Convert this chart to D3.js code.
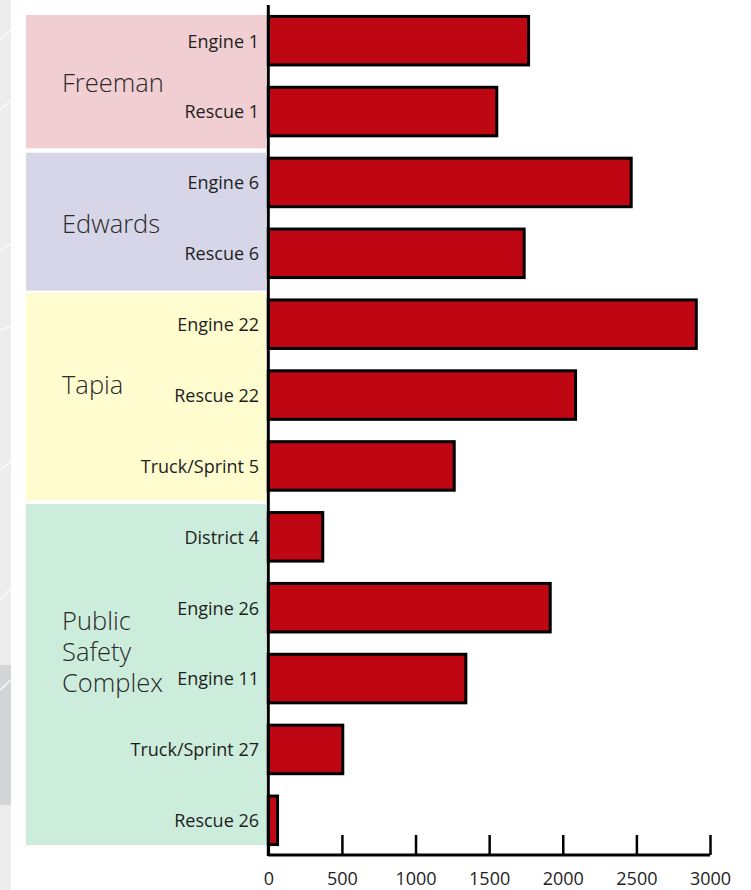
<!DOCTYPE html>
<html>
<head>
<meta charset="utf-8">
<script src="https://cdn.jsdelivr.net/npm/d3@7"></script>
<style>
  html, body { margin: 0; padding: 0; background: #fff; }
  svg { display: block; font-family: "Open Sans", "Noto Sans", sans-serif; }
</style>
</head>
<body>
<svg id="chart" width="751" height="890"></svg>
<script>
// ---- data ----
const categories = ["Engine 1", "Rescue 1", "Engine 6", "Rescue 6", "Engine 22", "Rescue 22",
  "Truck/Sprint 5", "District 4", "Engine 26", "Engine 11", "Truck/Sprint 27", "Rescue 26"];
const values = [1778, 1562, 2475, 1748, 2917, 2097, 1273, 380, 1925, 1352, 516, 73];
const groupNames = ["Freeman", "Edwards", "Tapia", "Public Safety Complex"];
const groupLabelLines = [["Freeman"], ["Edwards"], ["Tapia"], ["Public", "Safety", "Complex"]];
const groupFirst = ["Engine 1", "Engine 6", "Engine 22", "District 4"];
const groupLast = ["Rescue 1", "Rescue 6", "Truck/Sprint 5", "Rescue 26"];
const groupColors = ["#f1ced2", "#d6d6e8", "#fffccf", "#ccecdc"];
const xTicks = [0, 500, 1000, 1500, 2000, 2500, 3000];

// ---- layout ----
const svg = d3.select("#chart");
const x0 = 268.3, x1 = 710;
const x = d3.scaleLinear().domain([0, 3000]).range([x0, x1]);
const y = d3.scaleBand().domain(categories).range([5, 856]).paddingInner(0.273).paddingOuter(0.14);
const bw = y.bandwidth();

// faint map strip on the far left
svg.append("rect").attr("x", 0).attr("y", 0).attr("width", 11).attr("height", 890).attr("fill", "#ededed");
svg.append("rect").attr("x", 0).attr("y", 665).attr("width", 11).attr("height", 140).attr("fill", "#d4d5d6");
const roads = [[0, 40, 11, 30], [0, 110, 11, 100], [0, 250, 11, 244], [0, 330, 11, 326], [0, 470, 11, 462], [0, 600, 11, 588], [0, 690, 11, 680]];
svg.selectAll("line.road").data(roads).join("line").attr("class", "road")
  .attr("x1", d => d[0]).attr("y1", d => d[1]).attr("x2", d => d[2]).attr("y2", d => d[3])
  .attr("stroke", "#fafafa").attr("stroke-width", 1.5);

// group panels
const panelLeft = 26, panelRight = 266;
const topAdj = [0, -4, -6, -7];
const botAdj = [11, 11.5, 9, -1];
const labelFrac = [0.58, 0.58, 0.486, 0.37];
const panels = groupNames.map((g, i) => {
  const top = y(groupFirst[i]) + topAdj[i];
  const bottom = y(groupLast[i]) + bw + botAdj[i];
  return { name: g, lines: groupLabelLines[i], color: groupColors[i], top, bottom, frac: labelFrac[i] };
});
const pg = svg.append("g");
pg.selectAll("rect").data(panels).join("rect")
  .attr("x", panelLeft).attr("y", d => d.top)
  .attr("width", panelRight - panelLeft).attr("height", d => d.bottom - d.top)
  .attr("fill", d => d.color);
const gl = pg.selectAll("text").data(panels).join("text")
  .attr("x", 62)
  .attr("y", d => d.top + d.frac * (d.bottom - d.top))
  .attr("font-size", 25.5).attr("font-weight", 300).attr("fill", "#2a2a2a");
gl.selectAll("tspan").data(d => d.lines).join("tspan")
  .attr("x", 62).attr("dy", (d, i) => i === 0 ? 0 : 31).text(d => d);

// category labels
svg.append("g").selectAll("text").data(categories).join("text")
  .attr("x", 259).attr("y", d => y(d) + bw / 2)
  .attr("dy", "0.38em").attr("text-anchor", "end")
  .attr("font-size", 18).attr("fill", "#1e1e1e")
  .text(d => d);

// bars
svg.append("g").selectAll("rect").data(categories).join("rect")
  .attr("x", x(0))
  .attr("y", d => y(d) + 1.5)
  .attr("width", (d, i) => Math.max(0, x(values[i]) - x(0) - 1.5))
  .attr("height", bw - 3)
  .attr("fill", "#bf0613")
  .attr("stroke", "#000").attr("stroke-width", 3);

// y axis line
svg.append("line").attr("x1", x0).attr("x2", x0).attr("y1", 5).attr("y2", 856)
  .attr("stroke", "#000").attr("stroke-width", 3);

// x axis
const axisY = 855;
const xAxis = d3.axisBottom(x).tickValues(xTicks).tickSize(-20).tickPadding(30).tickFormat(d3.format("d"));
const ax = svg.append("g").attr("transform", `translate(0,${axisY})`).call(xAxis);
ax.select(".domain").attr("d", `M${x0},0H${x1}`).attr("stroke", "#000").attr("stroke-width", 3);
ax.selectAll(".tick line").attr("stroke", "#000").attr("stroke-width", 2.5);
ax.selectAll(".tick text").attr("font-size", 18).attr("fill", "#1e1e1e")
  .attr("font-family", "\"Open Sans\", sans-serif").attr("y", 30).attr("dy", "0");
</script>
</body>
</html>
